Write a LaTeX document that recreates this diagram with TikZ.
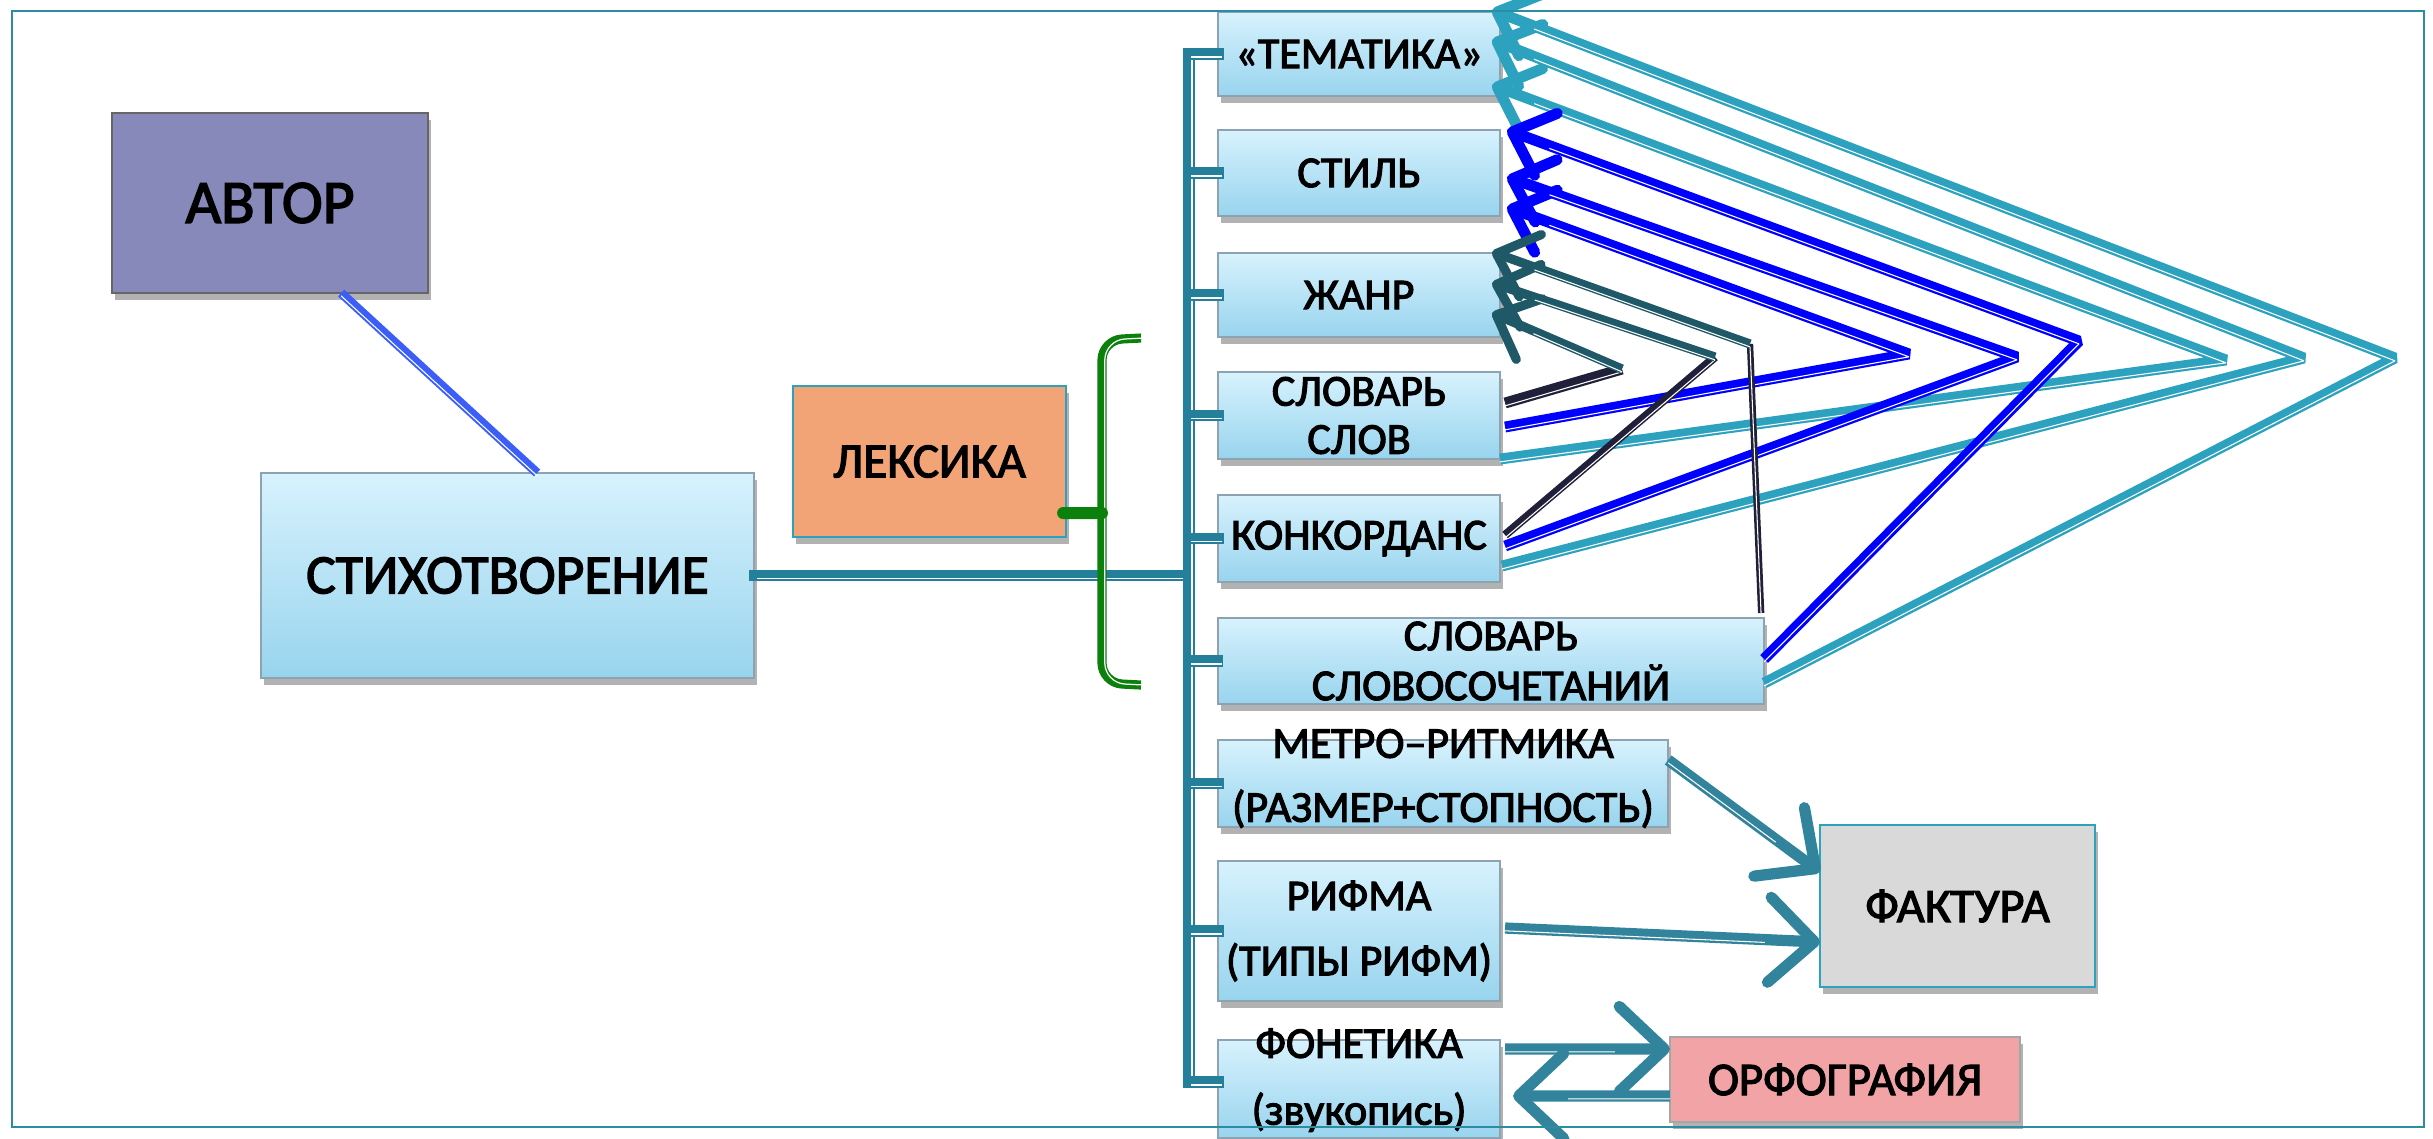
\documentclass[tikz,border=0pt]{standalone}
\usepackage{fontspec}
\setmainfont{Carlito}[FakeBold=2.5]
\usetikzlibrary{arrows.meta,shadows,calc}
\definecolor{trunkc}{HTML}{24809A}
\definecolor{tealc}{HTML}{2CA2BE}
\definecolor{bluec}{HTML}{0000FF}
\definecolor{slatec}{HTML}{1F5866}
\definecolor{navyc}{HTML}{20203A}
\definecolor{arrc}{HTML}{31849B}
\definecolor{avtorc}{HTML}{8689B9}
\definecolor{leksc}{HTML}{F2A477}
\definecolor{fakc}{HTML}{D9D9D9}
\definecolor{orfc}{HTML}{F2A3A5}
\definecolor{boxtop}{HTML}{D7F2FD}
\definecolor{boxbot}{HTML}{98D4EE}
\definecolor{boxline}{HTML}{8DA3B1}
\definecolor{framec}{HTML}{2B8CA2}
\definecolor{bracec}{HTML}{0B800B}
\definecolor{avline}{HTML}{3B5EF8}
\newcommand\fs[2]{\fontsize{#1}{#2}\selectfont}
\begin{document}
\begin{tikzpicture}[x=0.01cm,y=-0.01cm,
 shad/.style={drop shadow={shadow xshift=0.03cm,shadow yshift=-0.07cm,opacity=0.3,fill=black}},
 base/.style={rectangle, inner sep=0pt, outer sep=0pt, line width=0.6pt, shad},
 bluebox/.style={base, draw=boxline, top color=boxtop, bottom color=boxbot},
 txt/.style={inner sep=0pt, align=center, text=black},
 wl/.style={postaction={draw=white, line width=0.3pt, -, transform canvas={yshift=-0.8pt}, #1}},
 trunk/.style={draw=trunkc, line width=3.2pt, line cap=rect, postaction={draw=white, line width=0.45pt, transform canvas={shift={(0.9pt,-0.9pt)}}}},
 con/.style={draw=#1, line width=3.1pt, line join=bevel, -{Straight Barb[length=0.36cm,width=0.66cm,round]}, wl={shorten >=0.45cm}},
 seg/.style={draw=#1, line width=3.1pt, line join=bevel, wl={}},
 bigarr/.style={draw=arrc, line width=3.2pt, -{Straight Barb[length=0.45cm,width=0.85cm,round]}, wl={shorten >=0.55cm}},
 brace/.style={draw=bracec, line width=2.6pt, rounded corners=0.2cm, postaction={draw=white, line width=0.35pt, transform canvas={xshift=0.8pt}}},
]
\useasboundingbox (0,0) rectangle (2433,1138);
% boxes
\node[base, draw=black!60, fill=avtorc, minimum width=3.16cm, minimum height=1.80cm, font=\fs{17.5}{20}] (avtor) at (270,203) {АВТОР};
\node[bluebox, minimum width=4.93cm, minimum height=2.05cm, font=\fs{15.8}{18}] (stih) at (507.5,575.5) {СТИХОТВОРЕНИЕ};
\node[base, draw=tealc, fill=leksc, minimum width=2.73cm, minimum height=1.51cm, font=\fs{14}{16}] (leks) at (929.5,461.5) {ЛЕКСИКА};
\node[bluebox, minimum width=2.82cm, minimum height=0.84cm, font=\fs{12.5}{14}] (tem) at (1359,54) {«ТЕМАТИКА»};
\node[bluebox, minimum width=2.82cm, minimum height=0.86cm, font=\fs{12.5}{14}] (stil) at (1359,173) {СТИЛЬ};
\node[bluebox, minimum width=2.82cm, minimum height=0.84cm, font=\fs{12.5}{14}] (zhanr) at (1359,295) {ЖАНР};
\node[bluebox, minimum width=2.82cm, minimum height=0.87cm] (slov) at (1359,415.5) {};
\node[bluebox, minimum width=2.82cm, minimum height=0.87cm, font=\fs{12.5}{14}] (konk) at (1359,538.5) {КОНКОРДАНС};
\node[bluebox, minimum width=5.46cm, minimum height=0.86cm] (slsoch) at (1491,661) {};
\node[bluebox, minimum width=4.50cm, minimum height=0.87cm] (metro) at (1443,783.5) {};
\node[bluebox, minimum width=2.82cm, minimum height=1.40cm] (rifma) at (1359,931) {};
\node[bluebox, minimum width=2.82cm, minimum height=0.98cm] (fon) at (1359,1089) {};
\node[base, draw=tealc, fill=fakc, minimum width=2.75cm, minimum height=1.62cm, font=\fs{13.7}{16}] (faktura) at (1957.5,906) {ФАКТУРА};
\node[base, draw=black!35, fill=orfc, minimum width=3.50cm, minimum height=0.85cm, font=\fs{13.3}{16}] (orfo) at (1845,1079.5) {ОРФОГРАФИЯ};
% two-line texts
\node[txt, font=\fs{12.5}{13.7}] (slov-t) at (slov.center) {СЛОВАРЬ\\СЛОВ};
\node[txt, font=\fs{12.5}{14.2}] (slsoch-t) at (slsoch.center) {СЛОВАРЬ\\СЛОВОСОЧЕТАНИЙ};
\node[txt, font=\fs{12.5}{18.2}] (metro-t) at ([yshift=0.05cm]metro.center) {МЕТРО–РИТМИКА\\(РАЗМЕР+СТОПНОСТЬ)};
\node[txt, font=\fs{12.5}{18.5}] (rifma-t) at (rifma.center) {РИФМА\\(ТИПЫ РИФМ)};
\node[txt, font=\fs{12.5}{19}] (fon-t) at ([yshift=0.09cm]fon.center) {ФОНЕТИКА\\(звукопись)};
% author line
\draw[draw=avline, line width=2.6pt, wl={}] ($(avtor.south west)!0.725!(avtor.south east)$) -- ($(stih.north west)!0.56!(stih.north east)$);
% trunk
\coordinate (tk) at (1189,577);
\coordinate (fonb) at ([yshift=0.07cm]fon.west);
\draw[trunk] (stih.east) -- (stih.east -| tk);
\draw[trunk] (tk |- tem.west) -- (tk |- fonb);
\foreach \b in {tem,stil,zhanr,slov,konk,slsoch,metro,rifma} \draw[trunk] (tk |- \b.west) -- (\b.west);
\draw[trunk] (tk |- fonb) -- (fonb);
% brace
\draw[brace] (1141,338) -- (1102,340) -- (1102,683) -- (1141,685);
\draw[draw=bracec, line width=3.4pt, line cap=round] ([shift={(-0.03cm,0.24cm)}]leks.south east) -- (1102,513);
% apexes
\coordinate (ta1) at (2226,360);
\coordinate (ta2) at (2304,358);
\coordinate (ta3) at (2395,358);
\coordinate (ba1) at (1909,354);
\coordinate (ba2) at (2017,357);
\coordinate (ba3) at (2079,341);
\coordinate (da1) at (1622,369);
\coordinate (da2) at (1715,357);
\coordinate (da3) at (1750,344);
% teal
\draw[con=tealc] (slov.south east) -- (ta1) -- ([shift={(-0.08cm,-0.73cm)}]tem.north east);
\draw[con=tealc] ([shift={(0.02cm,-0.71cm)}]konk.north east) -- (ta2) -- ([shift={(-0.08cm,-0.28cm)}]tem.north east);
\draw[con=tealc] ([yshift=-0.65cm]slsoch.north east) -- (ta3) -- ([shift={(-0.08cm,0.02cm)}]tem.north east);
% blue
\draw[con=bluec] ([shift={(0.05cm,-0.55cm)}]slov.north east) -- (ba1) -- ([shift={(0.07cm,-0.77cm)}]stil.north east);
\draw[con=bluec] ([shift={(0.05cm,-0.51cm)}]konk.north east) -- (ba2) -- ([shift={(0.07cm,-0.47cm)}]stil.north east);
\draw[con=bluec] ([yshift=-0.41cm]slsoch.north east) -- (ba3) -- ([shift={(0.07cm,0cm)}]stil.north east);
% dark
\draw[seg=navyc] ([shift={(0.05cm,-0.31cm)}]slov.north east) -- (da1);
\draw[con=slatec, line width=2.6pt] (da1) -- ([shift={(-0.08cm,-0.6cm)}]zhanr.north east);
\draw[seg=navyc, line width=2.4pt] ([shift={(0.05cm,-0.40cm)}]konk.north east) -- (da2);
\draw[con=slatec, line width=2.6pt] (da2) -- ([shift={(-0.08cm,-0.3cm)}]zhanr.north east);
\draw[seg=navyc, line width=1.8pt] ([shift={(-0.03cm,0.05cm)}]slsoch.north east) -- (da3);
\draw[con=slatec, line width=2.6pt] (da3) -- ([shift={(-0.08cm,0.01cm)}]zhanr.north east);
% big arrows
\draw[bigarr] ([yshift=-0.2cm]metro.north east) -- ([yshift=-0.47cm]faktura.north west);
\draw[bigarr] ([shift={(0.05cm,-0.67cm)}]rifma.north east) -- ([yshift=-1.17cm]faktura.north west);
\draw[bigarr] ([shift={(0.05cm,-0.09cm)}]fon.north east) -- ([yshift=-0.12cm]orfo.north west);
\draw[bigarr] ([yshift=-0.59cm]orfo.north west) -- ([shift={(0.13cm,-0.56cm)}]fon.north east);
% frame
\draw[framec, line width=0.7pt] (12,11) rectangle (2424,1127);
\end{tikzpicture}
\end{document}
